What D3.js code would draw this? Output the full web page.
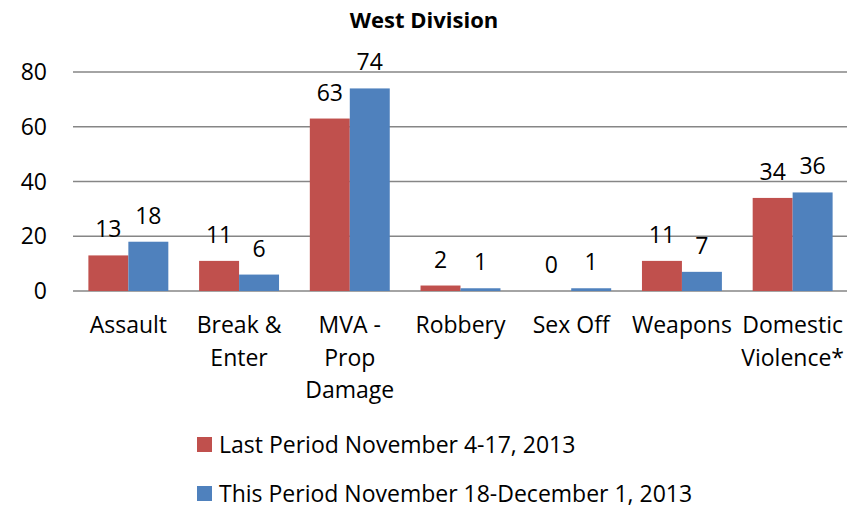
<!DOCTYPE html>
<html lang="en">
<head>
<meta charset="utf-8"/>
<style>
    body { margin: 0; background: #fff; }
    svg { display: block; font-family: "Open Sans", sans-serif; }
    .grid line { stroke: #868686; stroke-width: 1.5px; }
    text { fill: #000; }
</style>
<script src="https://d3js.org/d3.v7.min.js"></script>
</head>
<body>
<svg id="chart" width="847" height="508"></svg>
<script>
    var categories = [["Assault"], ["Break &", "Enter"], ["MVA -", "Prop", "Damage"], ["Robbery"],
        ["Sex Off"], ["Weapons"], ["Domestic", "Violence*"]];
    var lastPeriod = [13, 11, 63, 2, 0, 11, 34];
    var thisPeriod = [18, 6, 74, 1, 1, 7, 36];
    var seriesNames = ["Last Period November 4-17, 2013", "This Period November 18-December 1, 2013"];
    var colors = ["#C0504D", "#4F81BD"];
    var yTicks = [0, 20, 40, 60, 80];

    var svg = d3.select('#chart');
    var plotLeft = 73, plotRight = 848, plotTop = 72, plotBottom = 291;
    var fs = '23px';

    var x = d3.scaleBand().domain(d3.range(categories.length)).range([plotLeft, plotRight]);
    var x1 = d3.scaleBand().domain([0, 1]).range([0, x.bandwidth()]).paddingOuter(0.385);
    var y = d3.scaleLinear().domain([0, 80]).range([plotBottom, plotTop]);

    svg.append('text')
        .attr('x', 424).attr('y', 28)
        .attr('text-anchor', 'middle')
        .style('font-weight', 'bold').style('font-size', '22px')
        .text('West Division');

    svg.append('g').attr('class', 'grid')
        .selectAll('line').data(yTicks).enter().append('line')
        .attr('x1', plotLeft).attr('x2', 847)
        .attr('y1', function(d) { return y(d); }).attr('y2', function(d) { return y(d); });

    svg.append('g').selectAll('text').data(yTicks).enter().append('text')
        .attr('x', 47).attr('y', function(d) { return y(d) + 8; })
        .attr('text-anchor', 'end').style('font-size', fs)
        .text(function(d) { return d; });

    var series = [lastPeriod, thisPeriod];
    series.forEach(function(vals, s) {
        var g = svg.append('g');
        g.selectAll('rect').data(vals).enter().append('rect')
            .attr('x', function(d, i) { return x(i) + x1(s); })
            .attr('width', x1.bandwidth())
            .attr('y', function(d) { return y(d); })
            .attr('height', function(d) { return y(0) - y(d); })
            .attr('fill', colors[s]);
        g.selectAll('text').data(vals).enter().append('text')
            .attr('x', function(d, i) { return x(i) + x1(s) + x1.bandwidth() / 2; })
            .attr('y', function(d) { return y(d) - 18; })
            .attr('text-anchor', 'middle').style('font-size', fs)
            .text(function(d) { return d; });
    });

    var cat = svg.append('g').selectAll('text').data(categories).enter().append('text')
        .attr('text-anchor', 'middle').style('font-size', fs)
        .attr('x', function(d, i) { return x(i) + x.bandwidth() / 2; })
        .attr('y', 333);
    cat.selectAll('tspan').data(function(d) { return d; }).enter().append('tspan')
        .attr('x', function() { return d3.select(this.parentNode).attr('x'); })
        .attr('dy', function(d, i) { return i ? 32.5 : 0; })
        .text(function(d) { return d; });

    var legend = svg.append('g').selectAll('g').data(seriesNames).enter().append('g')
        .attr('transform', function(d, i) { return 'translate(197,' + (437 + i * 49) + ')'; });
    legend.append('rect').attr('width', 15).attr('height', 15)
        .attr('fill', function(d, i) { return colors[i]; });
    legend.append('text').attr('x', 22).attr('y', 16).style('font-size', fs)
        .text(function(d) { return d; });
</script>
</body>
</html>
